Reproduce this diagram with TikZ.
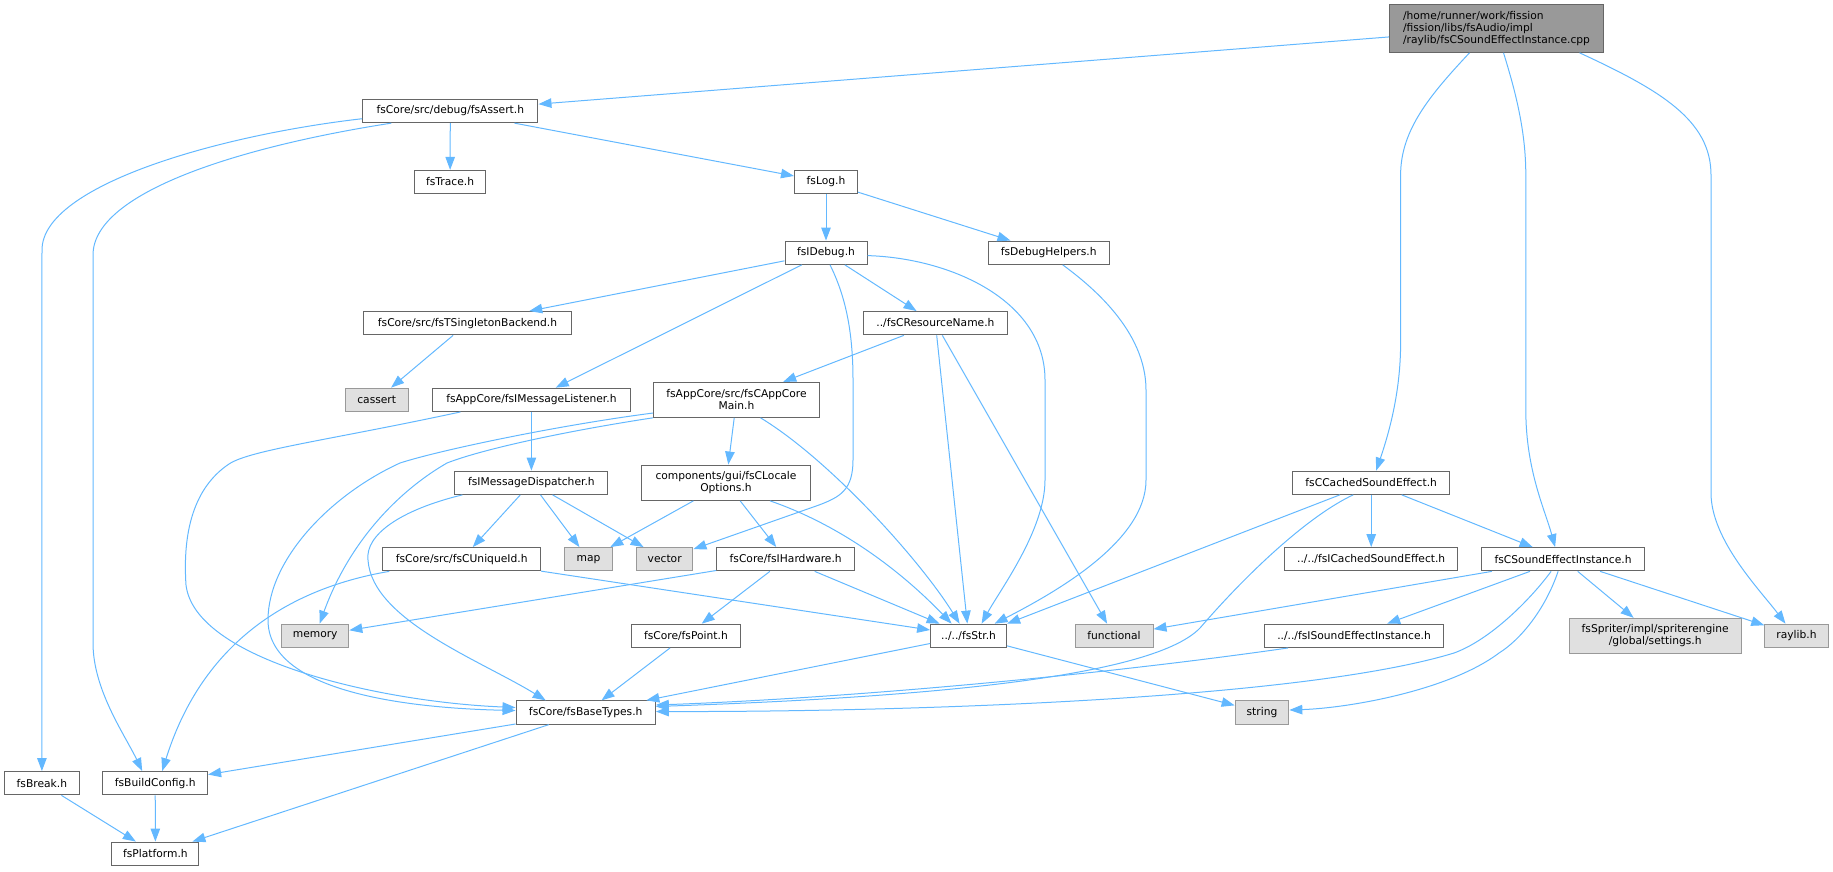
\documentclass[tikz,border=0pt]{standalone}
\usepackage{fontspec}
\setmainfont{DejaVu Sans}
\usetikzlibrary{arrows.meta}

\definecolor{edgeblue}{HTML}{63B8FF}
\definecolor{boxgray}{HTML}{666666}
\definecolor{sysgray}{HTML}{999999}
\definecolor{sysfill}{HTML}{E0E0E0}
\definecolor{rootfill}{HTML}{999999}

\begin{document}
\begin{tikzpicture}[x=1pt, y=-1pt]
    \tikzstyle{hdr} = [rectangle, draw=boxgray, fill=white, line width=1pt, minimum height=23.3pt, inner sep=0pt, align=center, font=\fontsize{10.7}{12}\selectfont]
    \tikzstyle{sys} = [hdr, draw=sysgray, fill=sysfill]
    \tikzstyle{srcfile} = [hdr, fill=rootfill, align=left, minimum height=47.6pt]
    \tikzstyle{incl} = [->, >={Triangle[length=13pt,width=9.5pt]}, draw=edgeblue, line width=1pt]

    \useasboundingbox (0,0) rectangle (1833,871);

    \node (fsroot) [srcfile, minimum width=214.4pt] at (1496.5,28.5) {/home/runner/work/fission\\/fission/libs/fsAudio/impl\\/raylib/fsCSoundEffectInstance.cpp};
    \node (fsassert) [hdr, minimum width=175.3pt] at (450.3,111) {fsCore/src/debug/fsAssert.h};
    \node (fstrace) [hdr, minimum width=71.2pt] at (450.1,182) {fsTrace.h};
    \node (fslog) [hdr, minimum width=63pt] at (826,182) {fsLog.h};
    \node (fsidebug) [hdr, minimum width=82pt] at (826,252.7) {fsIDebug.h};
    \node (fsdebughelpers) [hdr, minimum width=120.6pt] at (1048.7,252.7) {fsDebugHelpers.h};
    \node (fstsingleton) [hdr, minimum width=208pt] at (467.5,323.2) {fsCore/src/fsTSingletonBackend.h};
    \node (fscresourcename) [hdr, minimum width=143.2pt] at (935.4,323.2) {../fsCResourceName.h};
    \node (fscassert) [sys, minimum width=62.9pt] at (376.7,399.8) {cassert};
    \node (fsimsglistener) [hdr, minimum width=197.3pt] at (531.4,399.8) {fsAppCore/fsIMessageListener.h};
    \node (fscappcoremain) [hdr, minimum width=166.1pt, minimum height=35pt] at (736.5,399.8) {fsAppCore/src/fsCAppCore\\Main.h};
    \node (fsimsgdispatcher) [hdr, minimum width=153pt] at (531.4,482.7) {fsIMessageDispatcher.h};
    \node (fsclocale) [hdr, minimum width=168.9pt, minimum height=35.3pt] at (726,482.7) {components/gui/fsCLocale\\Options.h};
    \node (fsccached) [hdr, minimum width=156.6pt] at (1371.2,482.7) {fsCCachedSoundEffect.h};
    \node (fscuniqueid) [hdr, minimum width=157.9pt] at (461.7,559.2) {fsCore/src/fsCUniqueId.h};
    \node (fsmap) [sys, minimum width=47.5pt] at (588.5,559.2) {map};
    \node (fsvector) [sys, minimum width=56.5pt] at (664.7,559.2) {vector};
    \node (fsihardware) [hdr, minimum width=138pt] at (785.7,559.2) {fsCore/fsIHardware.h};
    \node (fsicached) [hdr, minimum width=172.8pt] at (1371.2,559.2) {../../fsICachedSoundEffect.h};
    \node (fscsei) [hdr, minimum width=163.5pt] at (1563.1,559.2) {fsCSoundEffectInstance.h};
    \node (fsmemory) [sys, minimum width=67.2pt] at (315.2,635.8) {memory};
    \node (fspoint) [hdr, minimum width=108.3pt] at (685.9,635.8) {fsCore/fsPoint.h};
    \node (fsstr) [hdr, minimum width=76pt] at (968.6,635.8) {../../fsStr.h};
    \node (fsfunctional) [sys, minimum width=78pt] at (1114,635.8) {functional};
    \node (fsisei) [hdr, minimum width=178.8pt] at (1354,635.8) {../../fsISoundEffectInstance.h};
    \node (fsspriter) [sys, minimum width=172.4pt, minimum height=35pt] at (1655.2,635.8) {fsSpriter/impl/spriterengine\\/global/settings.h};
    \node (fsraylib) [sys, minimum width=63.4pt] at (1796.5,635.8) {raylib.h};
    \node (fsbasetypes) [hdr, minimum width=139.3pt] at (585.7,712.5) {fsCore/fsBaseTypes.h};
    \node (fsstring) [sys, minimum width=53.7pt] at (1262,712.5) {string};
    \node (fsbreak) [hdr, minimum width=74.4pt] at (41.9,783.2) {fsBreak.h};
    \node (fsbuildconfig) [hdr, minimum width=104.8pt] at (155.2,783.2) {fsBuildConfig.h};
    \node (fsplatform) [hdr, minimum width=87pt] at (155.4,853.7) {fsPlatform.h};

    % includes of the source file
    \draw [incl] (fsroot) -- (fsassert);
    \draw [incl] ([xshift=-27pt]fsroot.south) .. controls (1430,95) and (1400.6,130) .. (1400.6,175) -- (1400.6,343) .. controls (1400.6,390) and (1390,430) .. ([xshift=5pt]fsccached.north);
    \draw [incl] ([xshift=7pt]fsroot.south) .. controls (1515,90) and (1525.8,130) .. (1525.8,175) -- (1525.8,410) .. controls (1525.8,470) and (1545,510) .. ([xshift=-8pt]fscsei.north);
    \draw [incl] ([xshift=83pt]fsroot.south) .. controls (1660,90) and (1711,120) .. (1711,175) -- (1711,493) .. controls (1711,540) and (1760,590) .. ([xshift=-11pt]fsraylib.north);

    \draw [incl] (fsassert) -- (fstrace);
    \draw [incl] (fsassert) -- (fslog);
    \draw [incl] (fsassert.185) .. controls (220,135) and (42,185) .. (42,250) -- (fsbreak);
    \draw [incl] ([xshift=-59pt]fsassert.south) .. controls (250,145) and (93,190) .. (93,255) -- (93,643) .. controls (93,690) and (125,735) .. ([xshift=-13pt]fsbuildconfig.north);

    \draw [incl] (fslog) -- (fsidebug);
    \draw [incl] (fslog) -- (fsdebughelpers);

    \draw [incl] (fsidebug) -- (fstsingleton);
    \draw [incl] (fsidebug) -- (fsimsglistener);
    \draw [incl] ([xshift=4pt]fsidebug.south) .. controls (845,295) and (853,330) .. (853,380) -- (853,460) .. controls (853,490) and (840,497) .. (819,505) -- (fsvector);
    \draw [incl] (fsidebug) -- (fscresourcename);
    \draw [incl] (fsidebug.-4) .. controls (950,258) and (1045,300) .. (1045,380) -- (1045,480) .. controls (1045,530) and (1000,590) .. ([xshift=13pt]fsstr.north);
    \draw [incl] ([xshift=14pt]fsdebughelpers.south) .. controls (1090,285) and (1146,330) .. (1146,390) -- (1146,480) .. controls (1146,540) and (1060,590) .. ([xshift=26pt]fsstr.north);

    \draw [incl] (fstsingleton) -- (fscassert);
    \draw [incl] (fsimsglistener) -- (fsimsgdispatcher);
    \draw [incl] ([xshift=-71pt]fsimsglistener.south) .. controls (330,440) and (250,450) .. (229,464) .. controls (190,490) and (183,540) .. (186,585) .. controls (195,660) and (380,702) .. ([yshift=5pt]fsbasetypes.west);

    \draw [incl] (fscresourcename) -- (fscappcoremain);
    \draw [incl] (fscresourcename) -- (fsstr);
    \draw [incl] (fscresourcename) -- (fsfunctional);

    \draw [incl] (fscappcoremain) -- (fsclocale);
    \draw [incl] ([xshift=24pt]fscappcoremain.south) .. controls (830,460) and (920,560) .. ([xshift=-9pt]fsstr.north);
    \draw [incl] (fscappcoremain.south west) .. controls (560,432) and (480,450) .. (447,463) .. controls (400,490) and (350,540) .. (fsmemory);
    \draw [incl] (fscappcoremain.189) .. controls (560,425) and (440,450) .. (400,463) .. controls (330,495) and (268,560) .. (268,620) .. controls (268,690) and (400,708) .. ([yshift=2pt]fsbasetypes.west);

    \draw [incl] (fsimsgdispatcher) -- (fscuniqueid);
    \draw [incl] (fsimsgdispatcher) -- (fsmap);
    \draw [incl] (fsimsgdispatcher) -- (fsvector);
    \draw [incl] ([xshift=8pt]fsimsgdispatcher.south west) .. controls (400,510) and (365,535) .. (368,560) .. controls (372,620) and (480,660) .. ([xshift=-40pt]fsbasetypes.north);

    \draw [incl] (fsclocale) -- (fsmap);
    \draw [incl] (fsclocale) -- (fsihardware);
    \draw [incl] ([xshift=44pt]fsclocale.south) .. controls (840,525) and (900,570) .. ([xshift=-17pt]fsstr.north);

    \draw [incl] ([xshift=7pt]fscuniqueid.south west) .. controls (280,590) and (200,650) .. ([xshift=7pt]fsbuildconfig.north);
    \draw [incl] (fscuniqueid) -- (fsstr);

    \draw [incl] (fsihardware) -- (fsmemory);
    \draw [incl] (fsihardware) -- (fspoint);
    \draw [incl] (fsihardware) -- (fsstr);

    \draw [incl] (fspoint) -- (fsbasetypes);
    \draw [incl] (fsstr) -- (fsbasetypes);
    \draw [incl] (fsstr) -- (fsstring);
    \draw [incl] (fsbasetypes) -- (fsbuildconfig);
    \draw [incl] (fsbasetypes) -- (fsplatform);
    \draw [incl] (fsbuildconfig) -- (fsplatform);
    \draw [incl] (fsbreak) -- (fsplatform);

    % sound effect headers
    \draw [incl] (fsccached) -- (fsicached);
    \draw [incl] (fsccached) -- (fscsei);
    \draw [incl] (fsccached) -- (fsstr.north east);
    \draw [incl] ([xshift=-18pt]fsccached.south) .. controls (1310,515) and (1250,570) .. (1200,628) .. controls (1150,680) and (900,698) .. ([yshift=6pt]fsbasetypes.east);

    \draw [incl] (fscsei) -- (fsfunctional);
    \draw [incl] (fscsei) -- (fsisei);
    \draw [incl] ([xshift=-12pt]fscsei.south) .. controls (1530,600) and (1490,640) .. (1454,653) .. controls (1300,700) and (900,712) .. ([yshift=1pt]fsbasetypes.east);
    \draw [incl] ([xshift=-5pt]fscsei.south) .. controls (1545,610) and (1520,640) .. (1499,653) .. controls (1450,690) and (1350,708) .. ([yshift=2.5pt]fsstring.east);
    \draw [incl] (fscsei) -- (fsspriter);
    \draw [incl] (fscsei) -- (fsraylib);

    \draw [incl] ([xshift=24pt]fsisei.south west) .. controls (1100,675) and (850,698) .. ([yshift=7.5pt]fsbasetypes.east);
\end{tikzpicture}
\end{document}
